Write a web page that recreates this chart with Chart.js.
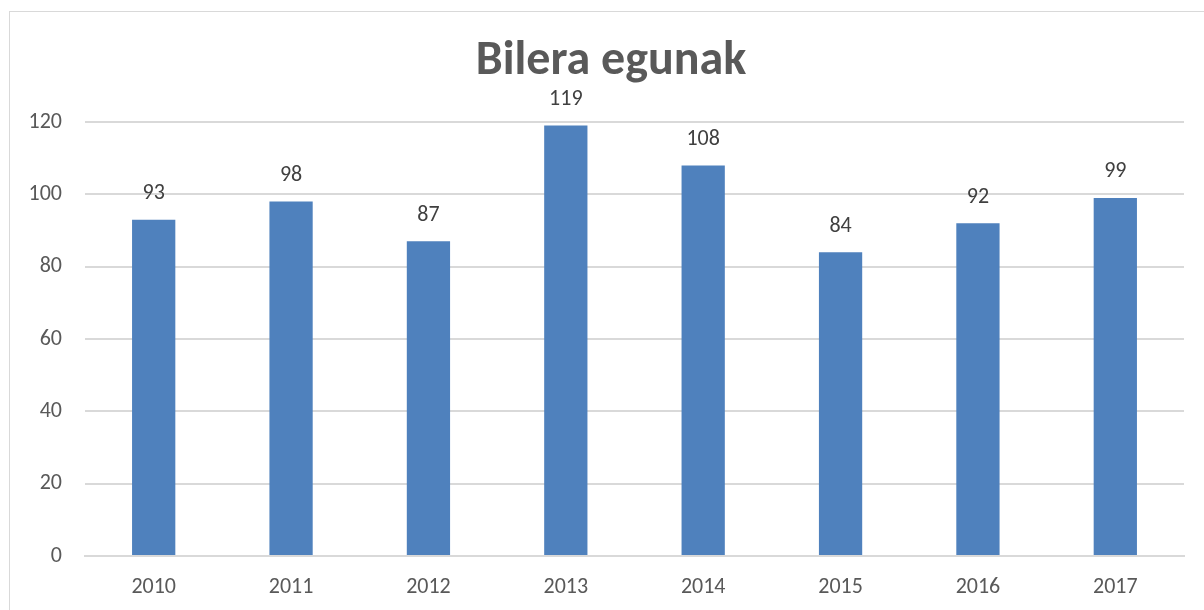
<!DOCTYPE html>
<html>
<head>
<meta charset="utf-8">
<script src="https://cdn.jsdelivr.net/npm/chart.js@4"></script>
<style>
  body { margin: 0; background: #fff; }
  #wrap { position: relative; width: 1204px; height: 610px; overflow: hidden; }
  #frame { position: absolute; left: 9px; top: 11px; width: 1220px; height: 640px; border: 1px solid #d9d9d9; }
  canvas { position: absolute; left: 0; top: 0; }
</style>
</head>
<body>
<div id="wrap">
  <div id="frame"></div>
  <canvas id="chart" width="1204" height="610"></canvas>
</div>
<script>
// chart data
const chartTitle = "Bilera egunak";
const years = ["2010", "2011", "2012", "2013", "2014", "2015", "2016", "2017"];
const days = [93, 98, 87, 119, 108, 84, 92, 99];

const fontFamily = "Carlito, Lato, 'Open Sans', sans-serif";

// title is drawn by hand so it can sit a bit right of the canvas centre
const titlePlugin = {
  id: "titlePlugin",
  afterDraw(chart) {
    const c = chart.ctx;
    c.save();
    c.font = "bold 48px " + fontFamily;
    c.fillStyle = "#595959";
    c.textAlign = "center";
    c.textBaseline = "middle";
    c.fillText(chartTitle, 611, 62);
    c.restore();
  },
};

// draws the value above each bar
const barLabels = {
  id: "barLabels",
  afterDatasetsDraw(chart) {
    const c = chart.ctx;
    const meta = chart.getDatasetMeta(0);
    c.save();
    c.font = "22px " + fontFamily;
    c.fillStyle = "#404040";
    c.textAlign = "center";
    c.textBaseline = "middle";
    meta.data.forEach((bar, i) => {
      c.fillText(days[i], bar.x, bar.y - 26);
    });
    c.restore();
  },
};

const ctx = document.getElementById("chart").getContext("2d");
new Chart(ctx, {
  type: "bar",
  data: {
    labels: years,
    datasets: [
      {
        label: chartTitle,
        data: days,
        backgroundColor: "#4F81BD",
        barPercentage: 0.63,
        categoryPercentage: 0.5,
      },
    ],
  },
  plugins: [barLabels, titlePlugin],
  options: {
    responsive: false,
    animation: false,
    layout: { padding: { left: 0, right: 20, top: 122, bottom: 0 } },
    plugins: {
      legend: { display: false },
      tooltip: { enabled: false },
      title: { display: false },
    },
    scales: {
      y: {
        min: 0,
        max: 120,
        ticks: { stepSize: 20, color: "#595959", font: { family: fontFamily, size: 22 }, padding: 23 },
        grid: { color: "#d9d9d9", lineWidth: 2, drawTicks: false },
        border: { display: false },
        afterFit(scale) { scale.width = 85; },
      },
      x: {
        ticks: { color: "#595959", font: { family: fontFamily, size: 22 }, padding: 18 },
        grid: { display: false, drawTicks: false },
        border: { color: "#d9d9d9", width: 2 },
        afterFit(scale) { scale.height = 54; },
      },
    },
  },
});
</script>
</body>
</html>
